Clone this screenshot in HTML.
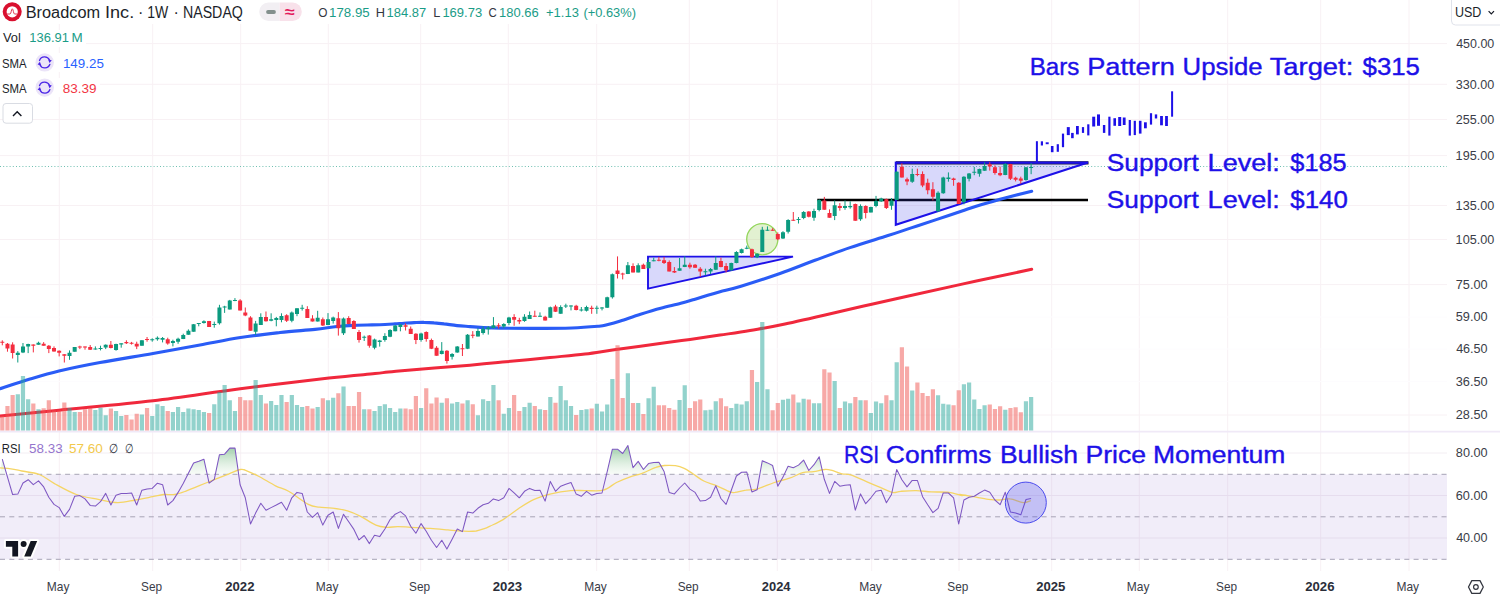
<!DOCTYPE html>
<html lang="en"><head><meta charset="utf-8"><title>Broadcom Inc. 1W NASDAQ chart</title><style>html,body{margin:0;padding:0;background:#fff;overflow:hidden}svg{display:block}</style></head><body>
<svg width="1500" height="596" viewBox="0 0 1500 596" font-family="'Liberation Sans', sans-serif">
<rect width="1500" height="596" fill="#ffffff"/>
<path d="M59.3 0V571 M152.7 0V571 M240.7 0V571 M328.3 0V571 M420.7 0V571 M508.3 0V571 M596.7 0V571 M689.3 0V571 M777.3 0V571 M871.7 0V571 M959 0V571 M1051.7 0V571 M1139.3 0V571 M1227.7 0V571 M1320.7 0V571 M1409 0V571 M0 43.6H1447 M0 84.3H1447 M0 119.5H1447 M0 155.6H1447 M0 205.5H1447 M0 239.5H1447 M0 284.6H1447 M0 415H1447" stroke="#f8f1f4" stroke-width="1" fill="none"/>
<path d="M0 317H1447M0 349H1447M0 381.6H1447" stroke="#fdfcfe" stroke-width="1" fill="none"/>
<path d="M0 453H1447M0 495.5H1447M0 538H1447" stroke="#f3eef3" stroke-width="1" fill="none"/>
<rect x="0" y="474.3" width="1447" height="85" fill="rgba(126,87,194,0.105)"/>
<path d="M0 431.6H1500" stroke="#f0e9f7" stroke-width="1.6"/>
<path d="M0 474.3H1447M0 516.8H1447M0 559.3H1447" stroke="#a7a3b6" stroke-width="1" stroke-dasharray="5 4.3" fill="none"/>
<path d="M0 166.5H1447" stroke="#6fbfb0" stroke-width="1" stroke-dasharray="1 2.2" fill="none"/>
<path d="M817.3 200H1088" stroke="#000" stroke-width="2.4"/>
<path d="M896 162.9H1088.5" stroke="#1a1a1a" stroke-width="3.2"/>
<path d="M648 256.6H793L648 288.6z" fill="rgba(60,60,235,0.20)" stroke="#1d10e8" stroke-width="1.9" stroke-linejoin="miter"/>
<path d="M895.8 162.6H1088L895.8 224.8z" fill="rgba(60,60,235,0.20)" stroke="#1d10e8" stroke-width="2.1" stroke-linejoin="miter"/>
<circle cx="762.3" cy="239.2" r="15.6" fill="rgba(150,205,90,0.28)" stroke="#94d65c" stroke-width="1.3"/>
<path d="M0.0 416.1C9.8 415.1 33.5 412.8 59.0 410.2C84.5 407.6 122.8 404.4 153.0 400.8C183.2 397.2 211.0 392.5 240.3 388.7C269.6 384.9 306.6 380.5 329.0 378.0C351.4 375.5 363.8 374.7 375.0 373.6C386.2 372.5 380.2 372.6 396.0 371.2C411.8 369.8 451.7 366.8 470.0 365.2C488.3 363.6 492.7 363.1 506.0 361.8C519.3 360.5 536.8 358.8 550.0 357.5C563.2 356.2 574.0 355.3 585.0 354.0C596.0 352.7 602.3 351.4 616.0 349.5C629.7 347.6 654.7 344.2 667.0 342.5C679.3 340.8 681.2 340.6 690.0 339.4C698.8 338.2 710.0 336.6 720.0 335.1C730.0 333.6 739.2 332.4 750.0 330.5C760.8 328.6 764.9 328.3 785.0 324.0C805.1 319.7 841.3 311.1 870.6 304.5C899.9 297.9 934.1 290.3 961.0 284.4C987.9 278.5 1019.9 271.8 1031.7 269.3" stroke="#f0283c" stroke-width="3" fill="none" stroke-linecap="round"/>
<path d="M0.0 388.7C5.0 387.1 20.2 381.9 30.0 379.0C39.8 376.1 47.3 373.8 59.0 371.0C70.7 368.2 84.3 365.4 100.0 362.5C115.7 359.6 136.3 356.4 153.0 353.5C169.7 350.6 185.4 347.7 200.0 345.0C214.6 342.3 227.2 339.6 240.5 337.5C253.8 335.4 267.6 333.9 280.0 332.5C292.4 331.1 305.5 330.4 315.0 329.4C324.5 328.4 330.0 327.2 337.0 326.5C344.0 325.8 351.2 325.5 357.0 325.2C362.8 324.9 367.3 325.0 372.0 324.9C376.7 324.8 381.2 324.7 385.0 324.5C388.8 324.3 391.8 324.1 395.0 323.9C398.2 323.7 400.8 323.4 404.0 323.2C407.2 323.0 410.7 322.7 414.0 322.6C417.3 322.5 420.7 322.3 424.0 322.4C427.3 322.4 430.7 322.6 434.0 322.9C437.3 323.1 440.2 323.4 444.0 323.9C447.8 324.3 452.7 325.2 457.0 325.6C461.3 326.1 464.2 326.2 470.0 326.6C475.8 327.0 481.7 327.6 492.0 327.9C502.3 328.2 518.7 328.4 532.0 328.4C545.3 328.4 560.8 328.4 572.0 328.0C583.2 327.6 593.2 326.7 599.0 326.2C604.8 325.7 603.4 325.7 607.0 324.8C610.6 323.9 614.8 322.8 620.4 321.0C626.0 319.2 633.8 316.4 640.5 314.3C647.2 312.2 654.0 310.1 660.7 308.3C667.4 306.5 675.2 304.8 680.8 303.3C686.4 301.8 689.7 300.8 694.2 299.5C698.7 298.2 703.4 296.6 707.7 295.3C712.0 294.0 714.5 293.3 720.0 291.8C725.5 290.3 731.0 289.4 741.0 286.3C751.0 283.2 767.7 277.8 780.0 273.5C792.3 269.2 803.3 264.6 815.0 260.3C826.7 256.0 837.8 251.7 850.0 247.6C862.2 243.5 877.7 238.9 888.0 235.6C898.3 232.3 903.8 230.3 912.0 227.6C920.2 224.9 928.2 222.3 937.0 219.4C945.8 216.5 957.7 212.4 965.0 210.0C972.3 207.6 974.3 206.8 981.0 204.8C987.7 202.8 996.5 200.2 1005.0 198.0C1013.5 195.8 1027.2 192.4 1031.7 191.3" stroke="#2a5cf6" stroke-width="3.1" fill="none" stroke-linecap="round"/>
<path d="M15.71 430.6v-36.4h4.2v36.4zM20.88 430.6v-54.7h4.2v54.7zM26.05 430.6v-31.3h4.2v31.3zM36.39 430.6v-21.3h4.2v21.3zM67.41 430.6v-22.7h4.2v22.7zM72.58 430.6v-18.7h4.2v18.7zM93.26 430.6v-20.7h4.2v20.7zM98.43 430.6v-22.9h4.2v22.9zM103.60 430.6v-15.3h4.2v15.3zM113.94 430.6v-19.6h4.2v19.6zM119.11 430.6v-14.7h4.2v14.7zM139.79 430.6v-16.0h4.2v16.0zM150.13 430.6v-14.7h4.2v14.7zM155.30 430.6v-26.3h4.2v26.3zM160.47 430.6v-24.7h4.2v24.7zM170.81 430.6v-18.7h4.2v18.7zM175.98 430.6v-23.6h4.2v23.6zM181.15 430.6v-18.7h4.2v18.7zM186.32 430.6v-22.0h4.2v22.0zM191.49 430.6v-21.3h4.2v21.3zM196.66 430.6v-20.7h4.2v20.7zM201.83 430.6v-18.7h4.2v18.7zM212.17 430.6v-26.3h4.2v26.3zM217.34 430.6v-38.7h4.2v38.7zM222.51 430.6v-45.6h4.2v45.6zM227.68 430.6v-30.4h4.2v30.4zM232.85 430.6v-19.6h4.2v19.6zM253.53 430.6v-50.7h4.2v50.7zM258.70 430.6v-35.6h4.2v35.6zM269.04 430.6v-29.6h4.2v29.6zM274.21 430.6v-25.6h4.2v25.6zM279.38 430.6v-35.6h4.2v35.6zM289.72 430.6v-35.6h4.2v35.6zM294.89 430.6v-25.6h4.2v25.6zM300.06 430.6v-23.6h4.2v23.6zM315.57 430.6v-23.6h4.2v23.6zM325.91 430.6v-30.4h4.2v30.4zM331.08 430.6v-32.9h4.2v32.9zM341.42 430.6v-44.0h4.2v44.0zM362.10 430.6v-21.3h4.2v21.3zM372.44 430.6v-19.6h4.2v19.6zM377.61 430.6v-24.7h4.2v24.7zM382.78 430.6v-26.3h4.2v26.3zM387.95 430.6v-22.7h4.2v22.7zM393.12 430.6v-18.7h4.2v18.7zM398.29 430.6v-22.0h4.2v22.0zM418.97 430.6v-22.7h4.2v22.7zM439.65 430.6v-27.9h4.2v27.9zM449.99 430.6v-27.1h4.2v27.1zM455.16 430.6v-28.7h4.2v28.7zM465.50 430.6v-30.4h4.2v30.4zM475.84 430.6v-15.3h4.2v15.3zM481.01 430.6v-31.3h4.2v31.3zM486.18 430.6v-29.6h4.2v29.6zM491.35 430.6v-45.6h4.2v45.6zM501.69 430.6v-16.9h4.2v16.9zM506.86 430.6v-22.7h4.2v22.7zM522.37 430.6v-23.6h4.2v23.6zM527.54 430.6v-27.9h4.2v27.9zM537.88 430.6v-21.3h4.2v21.3zM548.22 430.6v-33.7h4.2v33.7zM558.56 430.6v-44.7h4.2v44.7zM563.73 430.6v-30.4h4.2v30.4zM568.90 430.6v-24.7h4.2v24.7zM579.24 430.6v-20.7h4.2v20.7zM584.41 430.6v-21.4h4.2v21.4zM594.75 430.6v-26.8h4.2v26.8zM599.92 430.6v-19.2h4.2v19.2zM605.09 430.6v-26.2h4.2v26.2zM610.26 430.6v-51.5h4.2v51.5zM625.77 430.6v-57.4h4.2v57.4zM636.11 430.6v-27.5h4.2v27.5zM646.45 430.6v-32.3h4.2v32.3zM651.62 430.6v-43.8h4.2v43.8zM677.47 430.6v-30.5h4.2v30.5zM682.64 430.6v-45.4h4.2v45.4zM703.32 430.6v-20.3h4.2v20.3zM708.49 430.6v-20.9h4.2v20.9zM713.66 430.6v-29.4h4.2v29.4zM729.17 430.6v-22.5h4.2v22.5zM734.34 430.6v-26.8h4.2v26.8zM739.51 430.6v-26.2h4.2v26.2zM744.68 430.6v-29.4h4.2v29.4zM755.02 430.6v-48.6h4.2v48.6zM760.19 430.6v-108.6h4.2v108.6zM765.36 430.6v-41.4h4.2v41.4zM780.87 430.6v-30.8h4.2v30.8zM786.04 430.6v-31.9h4.2v31.9zM796.38 430.6v-28.2h4.2v28.2zM801.55 430.6v-31.9h4.2v31.9zM811.89 430.6v-27.3h4.2v27.3zM817.06 430.6v-27.3h4.2v27.3zM832.57 430.6v-49.5h4.2v49.5zM842.91 430.6v-29.2h4.2v29.2zM848.08 430.6v-27.3h4.2v27.3zM858.42 430.6v-30.3h4.2v30.3zM868.76 430.6v-17.5h4.2v17.5zM873.93 430.6v-29.2h4.2v29.2zM879.10 430.6v-27.3h4.2v27.3zM889.44 430.6v-30.3h4.2v30.3zM894.61 430.6v-68.3h4.2v68.3zM910.12 430.6v-40.2h4.2v40.2zM935.97 430.6v-35.4h4.2v35.4zM941.14 430.6v-26.8h4.2v26.8zM946.31 430.6v-26.2h4.2v26.2zM961.82 430.6v-46.3h4.2v46.3zM966.99 430.6v-48.0h4.2v48.0zM972.16 430.6v-31.0h4.2v31.0zM977.33 430.6v-21.6h4.2v21.6zM982.50 430.6v-25.3h4.2v25.3zM1003.18 430.6v-20.9h4.2v20.9zM1023.86 430.6v-29.3h4.2v29.3zM1029.03 430.6v-33.6h4.2v33.6z" fill="rgba(38,166,154,0.5)"/>
<path d="M0.20 430.6v-14.7h4.2v14.7zM5.37 430.6v-24.7h4.2v24.7zM10.54 430.6v-35.6h4.2v35.6zM31.22 430.6v-27.1h4.2v27.1zM41.56 430.6v-22.3h4.2v22.3zM46.73 430.6v-30.3h4.2v30.3zM51.90 430.6v-20.0h4.2v20.0zM57.07 430.6v-20.0h4.2v20.0zM62.24 430.6v-28.0h4.2v28.0zM77.75 430.6v-18.7h4.2v18.7zM82.92 430.6v-21.3h4.2v21.3zM88.09 430.6v-22.7h4.2v22.7zM108.77 430.6v-22.0h4.2v22.0zM124.28 430.6v-15.6h4.2v15.6zM129.45 430.6v-11.1h4.2v11.1zM134.62 430.6v-16.9h4.2v16.9zM144.96 430.6v-22.7h4.2v22.7zM165.64 430.6v-19.6h4.2v19.6zM207.00 430.6v-17.7h4.2v17.7zM238.02 430.6v-33.7h4.2v33.7zM243.19 430.6v-30.4h4.2v30.4zM248.36 430.6v-30.4h4.2v30.4zM263.87 430.6v-27.1h4.2v27.1zM284.55 430.6v-28.7h4.2v28.7zM305.23 430.6v-24.7h4.2v24.7zM310.40 430.6v-22.0h4.2v22.0zM320.74 430.6v-32.4h4.2v32.4zM336.25 430.6v-37.3h4.2v37.3zM346.59 430.6v-24.7h4.2v24.7zM351.76 430.6v-24.7h4.2v24.7zM356.93 430.6v-38.7h4.2v38.7zM367.27 430.6v-21.3h4.2v21.3zM403.46 430.6v-22.0h4.2v22.0zM408.63 430.6v-21.3h4.2v21.3zM413.80 430.6v-34.7h4.2v34.7zM424.14 430.6v-42.4h4.2v42.4zM429.31 430.6v-27.1h4.2v27.1zM434.48 430.6v-33.1h4.2v33.1zM444.82 430.6v-32.4h4.2v32.4zM460.33 430.6v-27.1h4.2v27.1zM470.67 430.6v-26.3h4.2v26.3zM496.52 430.6v-30.4h4.2v30.4zM512.03 430.6v-35.6h4.2v35.6zM517.20 430.6v-19.6h4.2v19.6zM532.71 430.6v-24.7h4.2v24.7zM543.05 430.6v-20.7h4.2v20.7zM553.39 430.6v-27.9h4.2v27.9zM574.07 430.6v-15.6h4.2v15.6zM589.58 430.6v-22.0h4.2v22.0zM615.43 430.6v-85.3h4.2v85.3zM620.60 430.6v-32.7h4.2v32.7zM630.94 430.6v-27.5h4.2v27.5zM641.28 430.6v-16.6h4.2v16.6zM656.79 430.6v-25.3h4.2v25.3zM661.96 430.6v-25.3h4.2v25.3zM667.13 430.6v-22.5h4.2v22.5zM672.30 430.6v-20.9h4.2v20.9zM687.81 430.6v-22.5h4.2v22.5zM692.98 430.6v-29.4h4.2v29.4zM698.15 430.6v-31.2h4.2v31.2zM718.83 430.6v-32.3h4.2v32.3zM724.00 430.6v-24.4h4.2v24.4zM749.85 430.6v-60.6h4.2v60.6zM770.53 430.6v-20.3h4.2v20.3zM775.70 430.6v-27.5h4.2v27.5zM791.21 430.6v-36.0h4.2v36.0zM806.72 430.6v-31.0h4.2v31.0zM822.23 430.6v-61.3h4.2v61.3zM827.40 430.6v-58.1h4.2v58.1zM837.74 430.6v-22.5h4.2v22.5zM853.25 430.6v-33.6h4.2v33.6zM863.59 430.6v-30.3h4.2v30.3zM884.27 430.6v-35.4h4.2v35.4zM899.78 430.6v-83.4h4.2v83.4zM904.95 430.6v-64.0h4.2v64.0zM915.29 430.6v-48.0h4.2v48.0zM920.46 430.6v-37.6h4.2v37.6zM925.63 430.6v-34.5h4.2v34.5zM930.80 430.6v-41.3h4.2v41.3zM951.48 430.6v-25.3h4.2v25.3zM956.65 430.6v-40.4h4.2v40.4zM987.67 430.6v-26.2h4.2v26.2zM992.84 430.6v-21.6h4.2v21.6zM998.01 430.6v-24.4h4.2v24.4zM1008.35 430.6v-22.5h4.2v22.5zM1013.52 430.6v-23.4h4.2v23.4zM1018.69 430.6v-18.3h4.2v18.3z" fill="rgba(239,83,80,0.5)"/>
<path d="M17.81 351.1V362.5M22.98 343.0V353.1M28.15 343.7V353.1M38.49 341.7V344.8M69.51 350.4V359.8M74.68 347.0V351.7M95.36 346.4V349.7M100.53 345.7V350.4M105.70 344.4V349.1M116.04 343.7V350.7M121.21 343.3V347.7M141.89 340.3V345.7M152.23 338.3V341.7M157.40 336.4V340.7M162.57 337.0V342.4M172.91 339.7V346.4M178.08 337.7V343.8M183.25 333.7V339.1M188.42 329.4V334.8M193.59 324.0V331.7M198.76 323.0V326.3M203.93 320.3V323.6M214.27 321.6V327.7M219.44 304.8V324.6M224.61 305.8V312.9M229.78 299.9V309.5M234.95 298.1V301.2M255.63 320.9V335.0M260.80 313.3V325.0M271.14 313.3V321.3M276.31 316.9V326.3M281.48 313.3V322.3M291.82 311.5V322.3M296.99 308.2V316.2M302.16 304.8V310.6M317.67 310.8V321.5M328.01 313.1V325.2M333.18 316.6V323.6M343.52 317.5V335.0M364.20 335.6V341.0M374.54 338.6V349.3M379.71 339.9V346.6M384.88 333.2V341.7M390.05 329.2V337.2M395.22 325.2V331.3M400.39 324.2V331.3M421.07 332.7V341.7M441.75 342.1V354.4M452.09 353.1V359.5M457.26 346.1V352.8M467.60 334.0V349.1M477.94 328.1V336.4M483.11 326.1V334.6M488.28 326.1V334.6M493.45 317.1V328.5M503.79 323.2V328.1M508.96 316.8V325.2M524.47 314.2V321.8M529.64 311.5V318.9M539.98 312.4V316.8M550.32 306.6V317.8M560.66 305.3V313.8M565.83 303.7V308.0M571.00 305.3V310.4M581.34 307.0V311.5M586.51 305.7V311.5M596.85 305.7V313.8M602.02 307.0V310.4M607.19 296.7V308.0M612.36 273.5V298.6M627.87 262.0V274.1M638.21 263.3V272.4M648.55 259.3V268.3M653.72 257.7V261.3M679.57 258.0V270.7M684.74 256.3V267.1M705.42 268.7V275.4M710.59 268.0V274.1M715.76 256.3V269.8M731.27 262.7V270.7M736.44 251.2V263.3M741.61 248.6V253.5M746.78 245.6V249.2M757.12 253.3V258.2M762.29 226.8V251.9M767.46 226.4V230.8M782.97 231.2V239.0M788.14 219.2V233.5M798.48 217.0V223.5M803.65 211.1V219.2M813.99 208.7V220.8M819.16 199.3V211.4M834.67 200.4V220.1M845.01 200.4V209.8M850.18 201.3V208.7M860.52 204.4V220.8M870.86 206.7V212.4M876.03 195.9V207.3M881.20 197.7V202.0M891.54 198.0V209.8M896.71 171.1V200.0M912.22 168.7V182.9M938.07 191.3V211.9M943.24 176.7V193.8M948.41 172.4V181.7M963.92 176.2V204.4M969.09 173.0V181.4M974.26 166.9V175.2M979.43 168.6V176.7M984.60 162.3V170.8M1005.28 163.1V175.2M1025.96 167.1V180.7M1031.13 163.1V174.2" stroke="#0b9a7f" stroke-width="1" fill="none"/>
<path d="M2.30 340.3V345.3M7.47 343.0V351.7M12.64 342.3V358.5M33.32 344.4V352.4M43.66 342.1V345.7M48.83 345.0V353.1M54.00 346.4V351.7M59.17 350.4V356.4M64.34 354.2V362.5M79.85 345.7V349.1M85.02 346.4V349.7M90.19 345.0V350.0M110.87 341.0V348.4M126.38 340.3V344.0M131.55 341.9V344.6M136.72 341.7V349.1M147.06 337.0V341.7M167.74 337.7V344.7M209.10 320.9V327.0M240.12 299.2V310.5M245.29 307.5V316.2M250.46 316.2V330.7M265.97 311.5V321.6M286.65 314.2V322.0M307.33 306.2V318.0M312.50 315.2V321.5M322.84 317.5V326.0M338.35 312.1V335.6M348.69 316.2V324.2M353.86 320.2V328.9M359.03 330.0V342.6M369.37 335.0V347.7M405.56 323.3V330.5M410.73 326.5V334.0M415.90 333.2V344.1M426.24 331.3V341.7M431.41 338.6V349.1M436.58 346.1V355.8M446.92 350.1V363.6M462.43 344.0V356.0M472.77 331.1V338.2M498.62 323.2V328.5M514.13 314.2V325.8M519.30 317.8V324.1M534.81 310.7V316.8M545.15 315.8V320.5M555.49 304.8V312.0M576.17 304.8V310.4M591.68 305.7V313.8M617.53 256.4V278.5M622.70 272.7V279.4M633.04 263.3V272.4M643.38 263.6V269.0M658.89 256.9V261.3M664.06 256.9V264.0M669.23 260.4V271.4M674.40 267.1V273.0M689.91 262.7V268.7M695.08 264.0V267.8M700.25 267.1V276.7M720.93 257.7V267.3M726.10 263.1V272.4M751.95 248.6V258.0M772.63 228.2V230.8M777.80 232.4V240.2M793.31 212.0V220.8M808.82 211.1V217.4M824.33 196.9V209.8M829.50 209.4V217.7M839.84 203.1V210.7M855.35 203.6V220.8M865.69 205.3V218.4M886.37 198.6V209.0M901.88 163.3V177.6M907.05 177.6V185.2M917.39 168.7V176.2M922.56 171.4V187.2M927.73 178.7V194.3M932.90 182.2V200.4M953.58 177.7V185.8M958.75 182.2V203.9M989.77 162.1V170.6M994.94 165.3V174.7M1000.11 166.6V176.2M1010.45 163.9V180.0M1015.62 176.7V181.4M1020.79 176.7V183.7" stroke="#f42c3e" stroke-width="1" fill="none"/>
<path d="M15.81 352.8H19.81V355.1H15.81zM20.98 346.4H24.98V352.4H20.98zM26.15 344.0H30.15V346.6H26.15zM36.49 342.8H40.49V344.8H36.49zM67.51 352.8H71.51V356.0H67.51zM72.68 347.0H76.68V351.7H72.68zM93.36 348.6H97.36V349.6H93.36zM98.53 347.9H102.53V348.9H98.53zM103.70 344.8H107.70V347.4H103.70zM114.04 344.0H118.04V350.0H114.04zM119.21 343.3H123.21V344.4H119.21zM139.89 340.3H143.89V345.7H139.89zM150.23 339.2H154.23V340.2H150.23zM155.40 337.7H159.40V339.3H155.40zM160.57 338.0H164.57V339.7H160.57zM170.91 341.1H174.91V343.1H170.91zM176.08 338.8H180.08V341.7H176.08zM181.25 335.0H185.25V339.1H181.25zM186.42 330.7H190.42V334.8H186.42zM191.59 324.3H195.59V331.7H191.59zM196.76 323.1H200.76V324.1H196.76zM201.93 321.3H205.93V323.0H201.93zM212.27 324.0H216.27V325.0H212.27zM217.44 307.5H221.44V323.2H217.44zM222.61 306.5H226.61V307.5H222.61zM227.78 300.5H231.78V309.5H227.78zM232.95 300.0H236.95V301.0H232.95zM253.63 323.6H257.63V331.7H253.63zM258.80 316.9H262.80V325.0H258.80zM269.14 319.3H273.14V320.7H269.14zM274.31 318.0H278.31V319.9H274.31zM279.48 316.0H283.48V319.9H279.48zM289.82 312.6H293.82V320.7H289.82zM294.99 308.2H298.99V314.0H294.99zM300.16 307.8H304.16V308.8H300.16zM315.67 317.8H319.67V321.5H315.67zM326.01 319.3H330.01V324.9H326.01zM331.18 317.5H335.18V321.1H331.18zM341.52 318.5H345.52V333.2H341.52zM362.20 336.7H366.20V337.8H362.20zM372.54 339.4H376.54V347.7H372.54zM377.71 340.5H381.71V342.1H377.71zM382.88 336.0H386.88V340.1H382.88zM388.05 330.0H392.05V336.7H388.05zM393.22 325.6H397.22V331.3H393.22zM398.39 324.6H402.39V326.9H398.39zM419.07 333.4H423.07V340.1H419.07zM439.75 350.7H443.75V354.0H439.75zM450.09 354.0H454.09V356.8H450.09zM455.26 346.4H459.26V352.6H455.26zM465.60 334.7H469.60V348.8H465.60zM475.94 331.1H479.94V336.4H475.94zM481.11 328.7H485.11V333.1H481.11zM486.28 327.6H490.28V329.3H486.28zM491.45 325.2H495.45V328.1H491.45zM501.79 324.1H505.79V326.5H501.79zM506.96 317.5H510.96V322.9H506.96zM522.47 316.8H526.47V321.1H522.47zM527.64 315.1H531.64V318.9H527.64zM537.98 315.8H541.98V316.8H537.98zM548.32 307.3H552.32V317.8H548.32zM558.66 307.0H562.66V313.8H558.66zM563.83 305.5H567.83V306.5H563.83zM569.00 305.5H573.00V306.5H569.00zM579.34 309.6H583.34V310.6H579.34zM584.51 307.0H588.51V310.8H584.51zM594.85 307.8H598.85V308.8H594.85zM600.02 307.6H604.02V308.6H600.02zM605.19 297.2H609.19V307.7H605.19zM610.36 274.2H614.36V297.2H610.36zM625.87 265.3H629.87V274.1H625.87zM636.21 265.3H640.21V272.4H636.21zM646.55 262.0H650.55V268.3H646.55zM651.72 260.3H655.72V261.3H651.72zM677.57 268.3H681.57V270.7H677.57zM682.74 264.7H686.74V267.1H682.74zM703.42 271.2H707.42V272.2H703.42zM708.59 269.0H712.59V271.6H708.59zM713.76 263.1H717.76V269.8H713.76zM729.27 263.1H733.27V270.3H729.27zM734.44 251.9H738.44V262.9H734.44zM739.61 249.2H743.61V253.0H739.61zM744.78 247.7H748.78V248.7H744.78zM755.12 253.7H759.12V257.3H755.12zM760.29 229.8H764.29V251.9H760.29zM765.46 229.8H769.46V230.8H765.46zM780.97 232.2H784.97V238.5H780.97zM786.14 220.1H790.14V231.8H786.14zM796.48 219.1H800.48V220.1H796.48zM801.65 212.0H805.65V218.1H801.65zM811.99 211.1H815.99V217.8H811.99zM817.16 200.0H821.16V210.0H817.16zM832.67 205.3H836.67V216.1H832.67zM843.01 206.0H847.01V208.0H843.01zM848.18 206.0H852.18V207.3H848.18zM858.52 206.0H862.52V219.2H858.52zM868.86 207.1H872.86V212.4H868.86zM874.03 201.0H878.03V206.0H874.03zM879.20 198.6H883.20V201.3H879.20zM889.54 200.6H893.54V205.7H889.54zM894.71 171.8H898.71V200.0H894.71zM910.22 174.1H914.22V181.8H910.22zM936.07 192.8H940.07V211.3H936.07zM941.24 177.4H945.24V193.3H941.24zM946.41 177.4H950.41V179.0H946.41zM961.92 176.7H965.92V201.9H961.92zM967.09 173.4H971.09V178.7H967.09zM972.26 171.8H976.26V172.8H972.26zM977.43 169.1H981.43V173.7H977.43zM982.60 166.1H986.60V170.8H982.60zM1003.28 163.9H1007.28V175.0H1003.28zM1023.96 167.3H1027.96V180.0H1023.96zM1029.13 166.9H1033.13V167.9H1029.13z" fill="#0b9a7f"/>
<path d="M0.30 341.8H4.30V342.8H0.30zM5.47 343.7H9.47V348.4H5.47zM10.64 344.4H14.64V353.1H10.64zM31.32 344.4H35.32V345.7H31.32zM41.66 343.7H45.66V345.7H41.66zM46.83 345.7H50.83V349.1H46.83zM52.00 348.0H56.00V351.5H52.00zM57.17 350.7H61.17V352.7H57.17zM62.34 354.2H66.34V355.8H62.34zM77.85 346.5H81.85V347.5H77.85zM83.02 346.5H87.02V347.5H83.02zM88.19 347.0H92.19V349.7H88.19zM108.87 344.8H112.87V348.1H108.87zM124.38 341.9H128.38V343.3H124.38zM129.55 342.8H133.55V343.8H129.55zM134.72 343.7H138.72V346.6H134.72zM145.06 338.9H149.06V339.9H145.06zM165.74 339.3H169.74V343.4H165.74zM207.10 320.9H211.10V327.0H207.10zM238.12 300.5H242.12V310.5H238.12zM243.29 312.6H247.29V315.6H243.29zM248.46 317.6H252.46V330.7H248.46zM263.97 316.9H267.97V321.3H263.97zM284.65 315.2H288.65V320.7H284.65zM305.33 308.9H309.33V318.0H305.33zM310.50 318.5H314.50V321.5H310.50zM320.84 319.3H324.84V325.6H320.84zM336.35 318.2H340.35V328.3H336.35zM346.69 317.9H350.69V324.0H346.69zM351.86 321.1H355.86V328.9H351.86zM357.03 331.9H361.03V339.9H357.03zM367.37 335.4H371.37V345.7H367.37zM403.56 325.2H407.56V326.8H403.56zM408.73 328.7H412.73V334.0H408.73zM413.90 333.8H417.90V340.1H413.90zM424.24 332.0H428.24V339.0H424.24zM429.41 340.1H433.41V348.7H429.41zM434.58 347.7H438.58V355.8H434.58zM444.92 350.7H448.92V361.1H444.92zM460.43 348.3H464.43V349.3H460.43zM470.77 334.7H474.77V335.7H470.77zM496.62 325.3H500.62V326.3H496.62zM512.13 317.1H516.13V319.8H512.13zM517.30 320.1H521.30V321.4H517.30zM532.81 315.8H536.81V316.8H532.81zM543.15 316.8H547.15V320.5H543.15zM553.49 306.6H557.49V311.7H553.49zM574.17 305.7H578.17V310.1H574.17zM589.68 307.7H593.68V309.1H589.68zM615.53 270.4H619.53V273.9H615.53zM620.70 273.6H624.70V274.6H620.70zM631.04 266.0H635.04V272.4H631.04zM641.38 264.7H645.38V269.0H641.38zM656.89 259.8H660.89V260.8H656.89zM662.06 260.2H666.06V262.9H662.06zM667.23 262.0H671.23V271.4H667.23zM672.40 271.1H676.40V272.4H672.40zM687.91 264.7H691.91V267.3H687.91zM693.08 264.7H697.08V267.8H693.08zM698.25 268.7H702.25V271.4H698.25zM718.93 261.0H722.93V267.1H718.93zM724.10 266.0H728.10V270.3H724.10zM749.95 249.2H753.95V256.9H749.95zM770.63 229.8H774.63V230.8H770.63zM775.80 234.1H779.80V239.2H775.80zM791.31 219.8H795.31V220.8H791.31zM806.82 211.4H810.82V216.7H806.82zM822.33 200.4H826.33V209.8H822.33zM827.50 213.0H831.50V217.7H827.50zM837.84 206.0H841.84V208.0H837.84zM853.35 204.0H857.35V220.8H853.35zM863.69 206.0H867.69V213.0H863.69zM884.37 199.3H888.37V208.0H884.37zM899.88 166.8H903.88V177.6H899.88zM905.05 179.2H909.05V181.6H905.05zM915.39 174.0H919.39V175.0H915.39zM920.56 174.1H924.56V185.6H920.56zM925.73 182.7H929.73V190.3H925.73zM930.90 189.3H934.90V196.8H930.90zM951.58 178.4H955.58V180.0H951.58zM956.75 182.7H960.75V203.9H956.75zM987.77 164.3H991.77V166.6H987.77zM992.94 167.3H996.94V173.0H992.94zM998.11 173.0H1002.11V175.2H998.11zM1008.45 164.1H1012.45V178.7H1008.45zM1013.62 177.7H1017.62V179.7H1013.62zM1018.79 178.5H1022.79V180.7H1018.79z" fill="#f42c3e"/>
<path d="M1036.9 141.2V162.3" stroke="#1d10e8" stroke-width="2.0"/>
<path d="M1041.9 141.3V145.5" stroke="#1d10e8" stroke-width="2.2"/>
<path d="M1047.2 142.3V144.2" stroke="#1d10e8" stroke-width="3.0"/>
<path d="M1052.2 146V152.2" stroke="#1d10e8" stroke-width="2.6"/>
<path d="M1057.8 144.2V151.8" stroke="#1d10e8" stroke-width="2.2"/>
<path d="M1063 133.6V147.2" stroke="#1d10e8" stroke-width="2.2"/>
<path d="M1068.3 127.1V135.1" stroke="#1d10e8" stroke-width="3.0"/>
<path d="M1072.4 132.9V138.2" stroke="#1d10e8" stroke-width="2.6"/>
<path d="M1077.4 126V134.4" stroke="#1d10e8" stroke-width="2.8"/>
<path d="M1083 127.1V132.9" stroke="#1d10e8" stroke-width="2.2"/>
<path d="M1088.3 124.3V135.4" stroke="#1d10e8" stroke-width="2.2"/>
<path d="M1093.7 116.7V126.5" stroke="#1d10e8" stroke-width="3.0"/>
<path d="M1098.5 114.4V125.8" stroke="#1d10e8" stroke-width="3.0"/>
<path d="M1104.1 125V132.9" stroke="#1d10e8" stroke-width="2.4"/>
<path d="M1109.4 116.7V135.6" stroke="#1d10e8" stroke-width="2.2"/>
<path d="M1114.7 118.2V125.8" stroke="#1d10e8" stroke-width="2.6"/>
<path d="M1119.7 117V126" stroke="#1d10e8" stroke-width="3.0"/>
<path d="M1124.2 117.5V125" stroke="#1d10e8" stroke-width="2.8"/>
<path d="M1129.8 120V135.6" stroke="#1d10e8" stroke-width="2.2"/>
<path d="M1134.8 120.8V135.1" stroke="#1d10e8" stroke-width="2.2"/>
<path d="M1140.2 120.8V133.6" stroke="#1d10e8" stroke-width="2.6"/>
<path d="M1145.4 122.3V128.3" stroke="#1d10e8" stroke-width="2.8"/>
<path d="M1151 113.2V124.6" stroke="#1d10e8" stroke-width="2.2"/>
<path d="M1156 114.4V118.5" stroke="#1d10e8" stroke-width="2.4"/>
<path d="M1161.5 116V125.3" stroke="#1d10e8" stroke-width="2.8"/>
<path d="M1166.5 116V126" stroke="#1d10e8" stroke-width="2.8"/>
<path d="M1172.1 91.3V116.7" stroke="#1d10e8" stroke-width="2.0"/>
<defs><clipPath id="ob"><rect x="0" y="432" width="1447" height="42.3"/></clipPath><linearGradient id="obg" x1="0" y1="445" x2="0" y2="474.3" gradientUnits="userSpaceOnUse"><stop offset="0" stop-color="#7fbf8f" stop-opacity="0.85"/><stop offset="1" stop-color="#cfe8cf" stop-opacity="0.15"/></linearGradient></defs>
<path d="M0 474.3L2.3 459.2L7.5 477.1L12.6 494.5L17.8 494.1L23.0 483.0L28.2 479.7L33.3 484.7L38.5 480.8L43.7 486.9L48.8 497.2L54.0 504.4L59.2 507.6L64.3 516.4L69.5 509.4L74.7 496.3L79.8 495.6L85.0 498.9L90.2 505.4L95.4 506.1L100.5 501.7L105.7 493.4L110.9 505.0L116.0 495.2L121.2 493.4L126.4 493.4L131.6 493.0L136.7 505.0L141.9 490.2L147.1 489.1L152.2 488.4L157.4 483.2L162.6 484.7L167.7 505.0L172.9 500.6L178.1 492.4L183.2 483.6L188.4 473.2L193.6 462.9L198.8 461.2L203.9 459.2L209.1 483.2L214.3 479.3L219.4 454.8L224.6 454.2L229.8 448.1L235.0 448.1L240.1 484.7L245.3 497.8L250.5 524.0L255.6 513.1L260.8 503.3L266.0 510.2L271.1 507.6L276.3 505.0L281.5 502.2L286.7 510.2L291.8 497.8L297.0 492.4L302.2 493.4L307.3 512.0L312.5 517.4L317.7 512.6L322.8 525.1L328.0 515.3L333.2 512.0L338.4 528.4L343.5 514.2L348.7 521.8L353.9 529.4L359.0 539.9L364.2 535.5L369.4 543.6L374.5 535.3L379.7 536.6L384.9 529.0L390.1 519.6L395.2 514.2L400.4 511.6L405.6 515.9L410.7 526.2L415.9 533.2L421.1 523.6L426.2 531.2L431.4 540.3L436.6 547.5L441.8 540.3L446.9 549.1L452.1 539.3L457.3 529.0L462.4 531.6L467.6 512.0L472.8 513.1L477.9 508.3L483.1 504.8L488.3 503.3L493.4 498.9L498.6 500.6L503.8 497.8L509.0 488.4L514.1 492.8L519.3 497.8L524.5 491.3L529.6 488.4L534.8 490.6L540.0 490.2L545.1 501.1L550.3 481.4L555.5 491.3L560.7 486.2L565.8 484.3L571.0 482.5L576.2 494.1L581.3 496.3L586.5 491.3L591.7 495.2L596.8 493.4L602.0 493.0L607.2 471.6L612.4 449.2L617.5 449.2L622.7 453.5L627.9 445.5L633.0 467.7L638.2 461.4L643.4 469.5L648.5 463.6L653.7 462.5L658.9 462.3L664.1 471.6L669.2 492.4L674.4 493.9L679.6 488.0L684.7 483.0L689.9 489.1L695.1 492.4L700.2 501.1L705.4 500.6L710.6 497.2L715.8 485.8L720.9 498.5L726.1 504.4L731.3 490.2L736.4 476.0L741.6 472.3L746.8 472.1L751.9 491.9L757.1 489.7L762.3 460.7L767.5 462.9L772.6 465.5L777.8 486.2L783.0 477.1L788.1 466.2L793.3 467.7L798.5 465.1L803.6 460.1L808.8 470.5L814.0 464.7L819.2 456.8L824.3 479.3L829.5 493.4L834.7 481.4L839.8 486.2L845.0 485.2L850.2 484.7L855.3 510.2L860.5 493.9L865.7 503.7L870.9 497.8L876.0 491.3L881.2 490.2L886.4 502.8L891.5 494.5L896.7 469.5L901.9 479.7L907.0 486.9L912.2 480.4L917.4 480.4L922.6 496.7L927.7 504.8L932.9 512.6L938.1 508.3L943.2 493.0L948.4 493.0L953.6 497.8L958.7 524.0L963.9 500.0L969.1 497.3L974.3 496.2L979.4 493.0L984.6 490.1L989.8 492.3L994.9 500.0L1000.1 504.7L1005.3 492.3L1010.4 511.9L1015.6 513.0L1020.8 514.8L1026.0 499.5L1031.1 498.4L1031.1 474.3z" fill="url(#obg)" clip-path="url(#ob)"/>
<path d="M0.0 467.9C1.8 468.1 7.3 468.3 10.9 468.8C14.5 469.3 17.1 470.0 21.8 471.0C26.5 471.9 33.8 472.4 39.3 474.5C44.7 476.6 48.4 480.3 54.5 483.6C60.7 487.0 69.1 491.9 76.4 494.5C83.6 497.2 91.3 498.0 98.2 499.3C105.1 500.7 111.6 502.5 117.8 502.6C124.0 502.7 129.4 501.0 135.3 500.0C141.1 499.0 148.0 497.6 152.7 496.7C157.4 495.8 160.0 494.9 163.6 494.5C167.2 494.2 170.9 495.1 174.5 494.5C178.2 494.0 180.0 493.3 185.4 491.3C190.9 489.3 200.0 485.4 207.2 482.5C214.5 479.6 223.6 476.0 229.1 473.8C234.5 471.6 237.4 470.1 240.0 469.5C242.5 468.8 243.5 469.8 244.3 469.9C245.2 470.0 242.7 469.1 245.0 470.1C247.3 471.1 253.0 473.4 258.1 476.0C263.2 478.6 270.5 483.3 275.5 485.8C280.6 488.4 283.2 488.2 288.6 491.3C294.1 494.4 303.2 501.7 308.3 504.4C313.4 507.0 315.2 506.6 319.2 507.2C323.2 507.8 327.5 507.4 332.3 508.1C337.0 508.7 342.8 509.5 347.5 510.9C352.3 512.3 355.9 514.0 360.6 516.4C365.3 518.7 371.5 523.3 375.9 525.1C380.3 526.9 383.2 527.0 386.8 527.3C390.4 527.5 393.7 526.6 397.7 526.6C401.7 526.6 405.3 527.0 410.8 527.3C416.2 527.6 424.2 527.9 430.4 528.4C436.6 528.8 442.4 529.4 447.9 529.9C453.3 530.4 458.4 531.0 463.2 531.2C467.9 531.4 472.6 531.4 476.2 531.0C479.9 530.5 482.7 529.2 485.0 528.4C487.3 527.6 487.0 527.6 490.0 526.2C493.0 524.7 498.4 522.5 503.1 519.6C507.8 516.7 513.3 512.1 518.4 508.7C523.4 505.4 528.2 502.0 533.6 499.6C539.1 497.1 544.9 495.4 551.1 493.9C557.3 492.4 564.9 491.2 570.7 490.6C576.5 490.1 580.5 490.7 586.0 490.6C591.4 490.5 598.3 491.5 603.4 490.2C608.5 488.8 612.2 484.7 616.5 482.5C620.9 480.4 625.3 478.6 629.6 477.1C634.0 475.5 638.3 474.8 642.7 473.2C647.1 471.5 652.2 468.5 655.8 467.3C659.4 466.0 661.2 465.8 664.5 465.5C667.8 465.3 672.2 465.3 675.4 465.7C678.7 466.2 681.2 467.0 684.2 468.4C687.1 469.7 689.6 471.7 692.9 473.8C696.2 475.9 699.8 479.0 703.8 481.0C707.8 483.0 712.5 484.0 716.9 485.8C721.2 487.6 726.9 490.8 730.0 491.9C733.0 493.0 732.3 492.6 735.0 492.4C737.7 492.1 742.3 490.7 745.9 490.2C749.5 489.6 752.1 490.4 756.8 489.1C761.5 487.8 768.8 484.4 774.3 482.5C779.7 480.7 784.8 479.8 789.5 478.2C794.3 476.5 798.6 473.8 802.6 472.7C806.6 471.6 809.9 472.2 813.5 471.6C817.2 471.1 821.5 469.7 824.4 469.5C827.4 469.2 828.1 469.4 831.0 470.1C833.9 470.8 838.6 473.0 841.9 473.8C845.2 474.6 846.6 473.6 850.6 474.9C854.6 476.2 861.2 479.4 865.9 481.4C870.6 483.4 874.6 485.1 879.0 486.9C883.3 488.7 888.4 491.6 892.1 492.4C895.7 493.1 896.8 491.6 900.8 491.3C904.8 491.0 911.0 490.5 916.1 490.6C921.2 490.7 925.9 491.6 931.3 491.9C936.8 492.2 943.7 491.7 948.8 492.4C953.9 493.0 960.0 495.3 961.9 495.6C963.7 496.0 958.1 494.3 960.0 494.5C961.9 494.7 968.4 495.9 973.1 496.7C977.8 497.5 984.0 498.8 988.3 499.3C992.7 499.8 995.6 500.0 999.2 500.0C1002.9 499.9 1006.1 498.4 1010.1 498.9C1014.1 499.3 1019.8 502.3 1023.2 502.6C1026.7 502.9 1029.6 500.9 1030.9 500.6" stroke="#f5d565" stroke-width="1.3" fill="none"/>
<path d="M2.3 459.2L7.5 477.1L12.6 494.5L17.8 494.1L23.0 483.0L28.2 479.7L33.3 484.7L38.5 480.8L43.7 486.9L48.8 497.2L54.0 504.4L59.2 507.6L64.3 516.4L69.5 509.4L74.7 496.3L79.8 495.6L85.0 498.9L90.2 505.4L95.4 506.1L100.5 501.7L105.7 493.4L110.9 505.0L116.0 495.2L121.2 493.4L126.4 493.4L131.6 493.0L136.7 505.0L141.9 490.2L147.1 489.1L152.2 488.4L157.4 483.2L162.6 484.7L167.7 505.0L172.9 500.6L178.1 492.4L183.2 483.6L188.4 473.2L193.6 462.9L198.8 461.2L203.9 459.2L209.1 483.2L214.3 479.3L219.4 454.8L224.6 454.2L229.8 448.1L235.0 448.1L240.1 484.7L245.3 497.8L250.5 524.0L255.6 513.1L260.8 503.3L266.0 510.2L271.1 507.6L276.3 505.0L281.5 502.2L286.7 510.2L291.8 497.8L297.0 492.4L302.2 493.4L307.3 512.0L312.5 517.4L317.7 512.6L322.8 525.1L328.0 515.3L333.2 512.0L338.4 528.4L343.5 514.2L348.7 521.8L353.9 529.4L359.0 539.9L364.2 535.5L369.4 543.6L374.5 535.3L379.7 536.6L384.9 529.0L390.1 519.6L395.2 514.2L400.4 511.6L405.6 515.9L410.7 526.2L415.9 533.2L421.1 523.6L426.2 531.2L431.4 540.3L436.6 547.5L441.8 540.3L446.9 549.1L452.1 539.3L457.3 529.0L462.4 531.6L467.6 512.0L472.8 513.1L477.9 508.3L483.1 504.8L488.3 503.3L493.4 498.9L498.6 500.6L503.8 497.8L509.0 488.4L514.1 492.8L519.3 497.8L524.5 491.3L529.6 488.4L534.8 490.6L540.0 490.2L545.1 501.1L550.3 481.4L555.5 491.3L560.7 486.2L565.8 484.3L571.0 482.5L576.2 494.1L581.3 496.3L586.5 491.3L591.7 495.2L596.8 493.4L602.0 493.0L607.2 471.6L612.4 449.2L617.5 449.2L622.7 453.5L627.9 445.5L633.0 467.7L638.2 461.4L643.4 469.5L648.5 463.6L653.7 462.5L658.9 462.3L664.1 471.6L669.2 492.4L674.4 493.9L679.6 488.0L684.7 483.0L689.9 489.1L695.1 492.4L700.2 501.1L705.4 500.6L710.6 497.2L715.8 485.8L720.9 498.5L726.1 504.4L731.3 490.2L736.4 476.0L741.6 472.3L746.8 472.1L751.9 491.9L757.1 489.7L762.3 460.7L767.5 462.9L772.6 465.5L777.8 486.2L783.0 477.1L788.1 466.2L793.3 467.7L798.5 465.1L803.6 460.1L808.8 470.5L814.0 464.7L819.2 456.8L824.3 479.3L829.5 493.4L834.7 481.4L839.8 486.2L845.0 485.2L850.2 484.7L855.3 510.2L860.5 493.9L865.7 503.7L870.9 497.8L876.0 491.3L881.2 490.2L886.4 502.8L891.5 494.5L896.7 469.5L901.9 479.7L907.0 486.9L912.2 480.4L917.4 480.4L922.6 496.7L927.7 504.8L932.9 512.6L938.1 508.3L943.2 493.0L948.4 493.0L953.6 497.8L958.7 524.0L963.9 500.0L969.1 497.3L974.3 496.2L979.4 493.0L984.6 490.1L989.8 492.3L994.9 500.0L1000.1 504.7L1005.3 492.3L1010.4 511.9L1015.6 513.0L1020.8 514.8L1026.0 499.5L1031.1 498.4" stroke="#7e57c2" stroke-width="1.05" fill="none" stroke-linejoin="round"/>
<circle cx="1025.8" cy="502.6" r="20.5" fill="rgba(70,70,235,0.27)" stroke="#4a4aee" stroke-width="1"/>
<g transform="translate(1475.9,587)" fill="none" stroke="#33363f" stroke-width="1.25"><path d="M-4.1 -6.4H4.1L7.4 0L4.1 6.4H-4.1L-7.4 0z" stroke-linejoin="round"/><circle r="2.3"/></g>
<rect x="1451.5" y="-4" width="60" height="29" rx="4" fill="#fff" stroke="#e0e3eb" stroke-width="1"/>
<path d="M1488.6 11.2l2.7 2.7l2.7 -2.7" stroke="#131722" stroke-width="1.2" fill="none"/>
<rect x="0" y="0" width="641" height="24" fill="#fff"/>
<rect x="0" y="30" width="86" height="17" fill="#fff"/>
<rect x="0" y="53" width="107" height="19" fill="#fff"/>
<rect x="0" y="78" width="100" height="19" fill="#fff"/>
<circle cx="12.2" cy="11.8" r="9.5" fill="#d9102f"/>
<circle cx="12.2" cy="11.8" r="5.6" fill="#fff"/>
<path d="M7.4 14h2.700c1 0 1.300-5.200 2.200-5.200s1.200 5.200 2.200 5.200h2.600" stroke="#dd2240" stroke-width="0.900" fill="none" stroke-linecap="round"/>
<path d="M268.400 2.600H279.700V21H268.400a9.200 9.200 0 0 1 0-18.400z" fill="#f2eff3"/><path d="M279.700 2.600H292.600a9.200 9.200 0 0 1 0 18.400H279.700z" fill="#f8e1ea"/>
<path d="M268 12H274" stroke="#83908d" stroke-width="3.800" stroke-linecap="round"/>
<text x="284.700" y="16.700" font-size="15" font-weight="bold" fill="#e3195c" textLength="9.900" lengthAdjust="spacingAndGlyphs">≈</text>
<circle cx="44.7" cy="62.4" r="9.2" fill="#ebe4f8"/>
<g transform="translate(44.7,62.4)" fill="none" stroke="#4a25e6" stroke-width="1.300" stroke-linecap="round"><path d="M-5.200 -1.900A5.400 5.400 0 0 1 4.800 -2.300"/><path d="M5.200 1.900A5.400 5.400 0 0 1 -4.800 2.300"/><path d="M3.400 -3L7.100 -2.200L4.800 .6z" fill="#4a25e6" stroke="none"/><path d="M-3.400 3L-7.100 2.200L-4.800 -.6z" fill="#4a25e6" stroke="none"/></g>
<circle cx="44.7" cy="87.6" r="9.2" fill="#ebe4f8"/>
<g transform="translate(44.7,87.6)" fill="none" stroke="#4a25e6" stroke-width="1.300" stroke-linecap="round"><path d="M-5.200 -1.900A5.400 5.400 0 0 1 4.800 -2.300"/><path d="M5.200 1.900A5.400 5.400 0 0 1 -4.800 2.300"/><path d="M3.400 -3L7.100 -2.200L4.800 .6z" fill="#4a25e6" stroke="none"/><path d="M-3.400 3L-7.100 2.200L-4.800 -.6z" fill="#4a25e6" stroke="none"/></g>
<rect x="3" y="103.500" width="29.500" height="19.700" rx="3" fill="#fff" stroke="#d9dce3" stroke-width="1"/>
<path d="M13 116l4.200 -4.200l4.200 4.200" stroke="#131722" stroke-width="1.400" fill="none"/>
<g fill="#131722" stroke="#fff" stroke-width="4" stroke-linejoin="round" paint-order="stroke"><path d="M5.900 541h12.200v15.400h-5.800v-9.600H5.900z"/><circle cx="23.650" cy="543.900" r="3"/><path d="M30.700 541h6.500l-6.500 15.400h-6.500z"/></g>
<text x="1029.63" y="74.85" font-size="24.7" fill="#1d10e8" textLength="49.68" lengthAdjust="spacingAndGlyphs" stroke="#1d10e8" stroke-width="0.4">Bars</text>
<text x="1087.20" y="74.85" font-size="24.7" fill="#1d10e8" textLength="87.65" lengthAdjust="spacingAndGlyphs" stroke="#1d10e8" stroke-width="0.4">Pattern</text>
<text x="1182.59" y="74.85" font-size="24.7" fill="#1d10e8" textLength="80.12" lengthAdjust="spacingAndGlyphs" stroke="#1d10e8" stroke-width="0.4">Upside</text>
<text x="1269.66" y="74.85" font-size="24.7" fill="#1d10e8" textLength="83.62" lengthAdjust="spacingAndGlyphs" stroke="#1d10e8" stroke-width="0.4">Target:</text>
<text x="1362.58" y="74.85" font-size="24.7" fill="#1d10e8" textLength="57.33" lengthAdjust="spacingAndGlyphs" stroke="#1d10e8" stroke-width="0.4">$315</text>
<text x="1106.79" y="171.1" font-size="24.7" fill="#1d10e8" textLength="92.06" lengthAdjust="spacingAndGlyphs" stroke="#1d10e8" stroke-width="0.4">Support</text>
<text x="1207.61" y="171.1" font-size="24.7" fill="#1d10e8" textLength="72.23" lengthAdjust="spacingAndGlyphs" stroke="#1d10e8" stroke-width="0.4">Level:</text>
<text x="1290.39" y="171.1" font-size="24.7" fill="#1d10e8" textLength="56.31" lengthAdjust="spacingAndGlyphs" stroke="#1d10e8" stroke-width="0.4">$185</text>
<text x="1106.79" y="207.9" font-size="24.7" fill="#1d10e8" textLength="92.06" lengthAdjust="spacingAndGlyphs" stroke="#1d10e8" stroke-width="0.4">Support</text>
<text x="1207.61" y="207.9" font-size="24.7" fill="#1d10e8" textLength="72.23" lengthAdjust="spacingAndGlyphs" stroke="#1d10e8" stroke-width="0.4">Level:</text>
<text x="1290.38" y="207.9" font-size="24.7" fill="#1d10e8" textLength="57.42" lengthAdjust="spacingAndGlyphs" stroke="#1d10e8" stroke-width="0.4">$140</text>
<text x="843.97" y="462.9" font-size="24.7" fill="#1d10e8" textLength="35.19" lengthAdjust="spacingAndGlyphs" stroke="#1d10e8" stroke-width="0.4">RSI</text>
<text x="885.88" y="462.9" font-size="24.7" fill="#1d10e8" textLength="105.69" lengthAdjust="spacingAndGlyphs" stroke="#1d10e8" stroke-width="0.4">Confirms</text>
<text x="999.95" y="462.9" font-size="24.7" fill="#1d10e8" textLength="78.04" lengthAdjust="spacingAndGlyphs" stroke="#1d10e8" stroke-width="0.4">Bullish</text>
<text x="1085.45" y="462.9" font-size="24.7" fill="#1d10e8" textLength="60.53" lengthAdjust="spacingAndGlyphs" stroke="#1d10e8" stroke-width="0.4">Price</text>
<text x="1152.95" y="462.9" font-size="24.7" fill="#1d10e8" textLength="132.49" lengthAdjust="spacingAndGlyphs" stroke="#1d10e8" stroke-width="0.4">Momentum</text>
<text x="25.70" y="18" font-size="16" fill="#1c1f2a" textLength="74.37" lengthAdjust="spacingAndGlyphs">Broadcom</text>
<text x="105.00" y="18" font-size="16" fill="#1c1f2a" textLength="29.16" lengthAdjust="spacingAndGlyphs">Inc.</text>
<text x="137.95" y="18" font-size="16" fill="#1c1f2a">·</text>
<text x="147.17" y="18" font-size="16" fill="#1c1f2a" textLength="21.00" lengthAdjust="spacingAndGlyphs">1W</text>
<text x="173.45" y="18" font-size="16" fill="#1c1f2a">·</text>
<text x="182.93" y="18" font-size="16" fill="#1c1f2a" textLength="59.98" lengthAdjust="spacingAndGlyphs">NASDAQ</text>
<text x="318.19" y="16.8" font-size="12.3" fill="#33363f" textLength="9.22" lengthAdjust="spacingAndGlyphs">O</text>
<text x="329.08" y="16.8" font-size="12.3" fill="#1a9c87" textLength="40.60" lengthAdjust="spacingAndGlyphs">178.95</text>
<text x="375.76" y="16.8" font-size="12.3" fill="#33363f" textLength="9.25" lengthAdjust="spacingAndGlyphs">H</text>
<text x="386.60" y="16.8" font-size="12.3" fill="#1a9c87" textLength="39.70" lengthAdjust="spacingAndGlyphs">184.87</text>
<text x="433.26" y="16.8" font-size="12.3" fill="#33363f" textLength="7.08" lengthAdjust="spacingAndGlyphs">L</text>
<text x="442.40" y="16.8" font-size="12.3" fill="#1a9c87" textLength="39.77" lengthAdjust="spacingAndGlyphs">169.73</text>
<text x="488.58" y="16.8" font-size="12.3" fill="#33363f" textLength="8.27" lengthAdjust="spacingAndGlyphs">C</text>
<text x="499.10" y="16.8" font-size="12.3" fill="#1a9c87" textLength="39.70" lengthAdjust="spacingAndGlyphs">180.66</text>
<text x="546.04" y="16.8" font-size="12.3" fill="#1a9c87" textLength="32.85" lengthAdjust="spacingAndGlyphs">+1.13</text>
<text x="583.40" y="16.8" font-size="12.3" fill="#1a9c87" textLength="52.58" lengthAdjust="spacingAndGlyphs">(+0.63%)</text>
<text x="2.95" y="41.7" font-size="12.9" fill="#1c1f2a" textLength="17.81" lengthAdjust="spacingAndGlyphs">Vol</text>
<text x="29.38" y="41.7" font-size="12.9" fill="#1a9c87" textLength="39.55" lengthAdjust="spacingAndGlyphs">136.91</text>
<text x="71.55" y="41.7" font-size="12.9" fill="#1a9c87" textLength="11.19" lengthAdjust="spacingAndGlyphs">M</text>
<text x="1.95" y="67.7" font-size="13" fill="#1c1f2a" textLength="24.67" lengthAdjust="spacingAndGlyphs">SMA</text>
<text x="62.95" y="67.7" font-size="13" fill="#2962ff" textLength="40.88" lengthAdjust="spacingAndGlyphs">149.25</text>
<text x="1.95" y="92.7" font-size="13" fill="#1c1f2a" textLength="24.67" lengthAdjust="spacingAndGlyphs">SMA</text>
<text x="62.84" y="92.7" font-size="13" fill="#f23645" textLength="33.82" lengthAdjust="spacingAndGlyphs">83.39</text>
<text x="1.81" y="452.7" font-size="13" fill="#1c1f2a" textLength="18.83" lengthAdjust="spacingAndGlyphs">RSI</text>
<text x="29.11" y="452.7" font-size="13" fill="#9575cd" textLength="33.55" lengthAdjust="spacingAndGlyphs">58.33</text>
<text x="69.00" y="452.7" font-size="13" fill="#f2c94c" textLength="33.92" lengthAdjust="spacingAndGlyphs">57.60</text>
<text x="109.47" y="452.7" font-size="12.5" fill="#2a2e39" textLength="8.82" lengthAdjust="spacingAndGlyphs">∅</text>
<text x="125.43" y="452.7" font-size="12.5" fill="#2a2e39" textLength="8.13" lengthAdjust="spacingAndGlyphs">∅</text>
<text x="1454.91" y="16.8" font-size="14.9" fill="#1c1f2a" textLength="26.41" lengthAdjust="spacingAndGlyphs">USD</text>
<text x="1456.15" y="48.0" font-size="12.3" fill="#3a3d48" textLength="38.15" lengthAdjust="spacingAndGlyphs">450.00</text>
<text x="1455.76" y="88.7" font-size="12.3" fill="#3a3d48" textLength="38.54" lengthAdjust="spacingAndGlyphs">330.00</text>
<text x="1455.83" y="123.9" font-size="12.3" fill="#3a3d48" textLength="38.48" lengthAdjust="spacingAndGlyphs">255.00</text>
<text x="1455.63" y="160.0" font-size="12.3" fill="#3a3d48" textLength="38.68" lengthAdjust="spacingAndGlyphs">195.00</text>
<text x="1455.63" y="209.9" font-size="12.3" fill="#3a3d48" textLength="38.68" lengthAdjust="spacingAndGlyphs">135.00</text>
<text x="1455.63" y="243.9" font-size="12.3" fill="#3a3d48" textLength="38.68" lengthAdjust="spacingAndGlyphs">105.00</text>
<text x="1455.82" y="289.0" font-size="12.3" fill="#3a3d48" textLength="31.76" lengthAdjust="spacingAndGlyphs">75.00</text>
<text x="1455.74" y="321.4" font-size="12.3" fill="#3a3d48" textLength="31.84" lengthAdjust="spacingAndGlyphs">59.00</text>
<text x="1456.15" y="353.4" font-size="12.3" fill="#3a3d48" textLength="31.43" lengthAdjust="spacingAndGlyphs">46.50</text>
<text x="1455.76" y="386.0" font-size="12.3" fill="#3a3d48" textLength="31.82" lengthAdjust="spacingAndGlyphs">36.50</text>
<text x="1455.82" y="419.4" font-size="12.3" fill="#3a3d48" textLength="31.76" lengthAdjust="spacingAndGlyphs">28.50</text>
<text x="1455.87" y="457.4" font-size="12.3" fill="#3a3d48" textLength="31.71" lengthAdjust="spacingAndGlyphs">80.00</text>
<text x="1455.82" y="499.9" font-size="12.3" fill="#3a3d48" textLength="31.76" lengthAdjust="spacingAndGlyphs">60.00</text>
<text x="1456.15" y="542.4" font-size="12.3" fill="#3a3d48" textLength="31.43" lengthAdjust="spacingAndGlyphs">40.00</text>
<text x="46.78" y="590.7" font-size="12.6" fill="#3a3d48" textLength="22.63" lengthAdjust="spacingAndGlyphs">May</text>
<text x="141.07" y="590.7" font-size="12.6" fill="#3a3d48" textLength="21.04" lengthAdjust="spacingAndGlyphs">Sep</text>
<text x="225.15" y="590.7" font-size="12.6" fill="#2a2e39" textLength="29.37" lengthAdjust="spacingAndGlyphs" font-weight="bold">2022</text>
<text x="315.78" y="590.7" font-size="12.6" fill="#3a3d48" textLength="22.63" lengthAdjust="spacingAndGlyphs">May</text>
<text x="409.07" y="590.7" font-size="12.6" fill="#3a3d48" textLength="21.04" lengthAdjust="spacingAndGlyphs">Sep</text>
<text x="492.75" y="590.7" font-size="12.6" fill="#2a2e39" textLength="29.37" lengthAdjust="spacingAndGlyphs" font-weight="bold">2023</text>
<text x="584.18" y="590.7" font-size="12.6" fill="#3a3d48" textLength="22.63" lengthAdjust="spacingAndGlyphs">May</text>
<text x="677.67" y="590.7" font-size="12.6" fill="#3a3d48" textLength="21.04" lengthAdjust="spacingAndGlyphs">Sep</text>
<text x="761.76" y="590.7" font-size="12.6" fill="#2a2e39" textLength="28.77" lengthAdjust="spacingAndGlyphs" font-weight="bold">2024</text>
<text x="859.18" y="590.7" font-size="12.6" fill="#3a3d48" textLength="22.63" lengthAdjust="spacingAndGlyphs">May</text>
<text x="947.37" y="590.7" font-size="12.6" fill="#3a3d48" textLength="21.04" lengthAdjust="spacingAndGlyphs">Sep</text>
<text x="1036.15" y="590.7" font-size="12.6" fill="#2a2e39" textLength="29.28" lengthAdjust="spacingAndGlyphs" font-weight="bold">2025</text>
<text x="1126.78" y="590.7" font-size="12.6" fill="#3a3d48" textLength="22.63" lengthAdjust="spacingAndGlyphs">May</text>
<text x="1216.07" y="590.7" font-size="12.6" fill="#3a3d48" textLength="21.04" lengthAdjust="spacingAndGlyphs">Sep</text>
<text x="1305.15" y="590.7" font-size="12.6" fill="#2a2e39" textLength="29.37" lengthAdjust="spacingAndGlyphs" font-weight="bold">2026</text>
<text x="1396.48" y="590.7" font-size="12.6" fill="#3a3d48" textLength="22.63" lengthAdjust="spacingAndGlyphs">May</text>
</svg>
</body></html>
